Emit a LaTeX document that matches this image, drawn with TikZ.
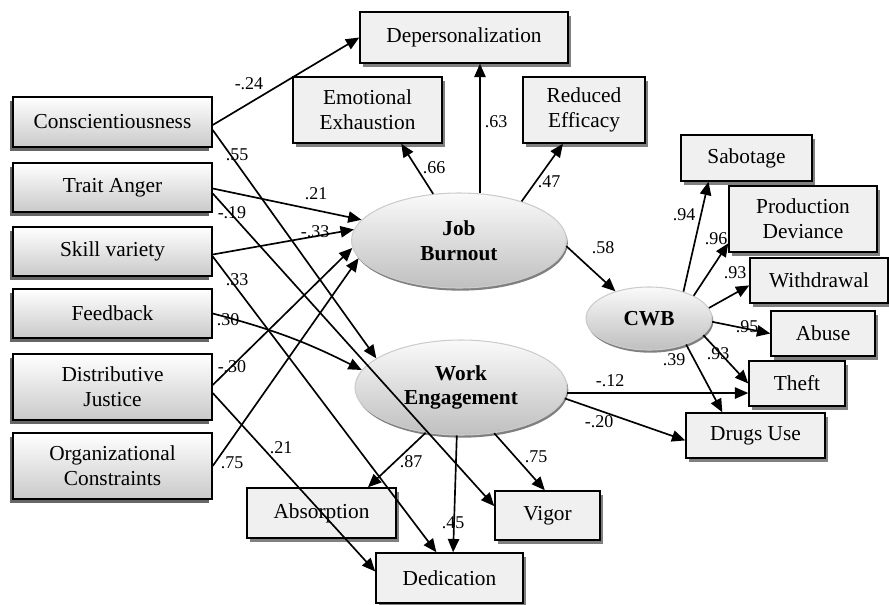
\documentclass[tikz,border=0pt]{standalone}
\usepackage{fontspec}
\setmainfont{Liberation Serif}
\usetikzlibrary{arrows.meta}
\usetikzlibrary{shapes.geometric}
\usetikzlibrary{shadows}
\usetikzlibrary{calc}

\begin{document}
\begin{tikzpicture}[x=0.75pt,y=0.75pt,yscale=-1,xscale=1,
  inbox/.style={draw=black, line width=1.1pt, top color=white, bottom color=gray!42, inner sep=0pt, align=center, font=\fontsize{16}{18.5}\selectfont, drop shadow={shadow xshift=-2.2pt, shadow yshift=-3.2pt, fill=black!60, opacity=1}},
  outbox/.style={draw=black, line width=1.1pt, fill=black!6, inner sep=0pt, align=center, font=\fontsize{16}{18.5}\selectfont, drop shadow={shadow xshift=2pt, shadow yshift=-3pt, fill=black!50, opacity=1}},
  latent/.style={ellipse, draw=black!20, line width=0.8pt, top color=black!2, bottom color=black!25, inner sep=0pt, align=center, font=\fontsize{16}{18.5}\selectfont\bfseries, drop shadow={shadow xshift=1pt, shadow yshift=-2pt, fill=black!50, opacity=1}},
  path/.style={line width=1.25pt, -{Triangle[length=10pt,width=8.5pt]}},
  coef/.style={inner sep=0.75pt, font=\fontsize{13.5}{15}\selectfont}]
\useasboundingbox (0,0) rectangle (889,604);

%Shape: Rectangle [predictors]
\node[inbox, minimum width=149.25pt, minimum height=37.5pt] (consc) at (112.5,122) {Conscientiousness};
\node[inbox, minimum width=149.25pt, minimum height=36.75pt] (anger) at (112.5,187.5) {Trait Anger};
\node[inbox, minimum width=149.25pt, minimum height=36.75pt] (skill) at (112.5,251.5) {Skill variety};
\node[inbox, minimum width=149.25pt, minimum height=36.75pt] (feedb) at (112.5,313.5) {Feedback};
\node[inbox, minimum width=149.25pt, minimum height=49.5pt] (distj) at (112.5,387) {Distributive\\Justice};
\node[inbox, minimum width=149.25pt, minimum height=49.5pt] (orgc) at (112.5,466) {Organizational\\Constraints};

%Shape: Ellipse [latent factors]
\node[latent, minimum width=161.25pt, minimum height=71.25pt] (jb) at (459,240.5) {Job\\Burnout};
\node[latent, minimum width=159pt, minimum height=71.25pt] (we) at (461,387.5) {Work\\Engagement};
\node[latent, minimum width=94.5pt, minimum height=47.25pt] (cwb) at (649,318.5) {CWB};

%Shape: Rectangle [indicators]
\node[outbox, minimum width=156pt, minimum height=38.25pt] (depers) at (464,37.5) {Depersonalization};
\node[outbox, minimum width=111.75pt, minimum height=49.5pt] (emoex) at (367.5,110) {Emotional\\Exhaustion};
\node[outbox, minimum width=91.5pt, minimum height=49.5pt] (redeff) at (584,110) {Reduced\\Efficacy};
\node[outbox, minimum width=98.25pt, minimum height=34.5pt] (sabot) at (746.5,158) {Sabotage};
\node[outbox, minimum width=111pt, minimum height=49.5pt] (prodev) at (803,219) {Production\\Deviance};
\node[outbox, minimum width=103.5pt, minimum height=33.75pt] (withd) at (819,280.5) {Withdrawal};
\node[outbox, minimum width=78pt, minimum height=33.75pt] (abuse) at (823,333.5) {Abuse};
\node[outbox, minimum width=72pt, minimum height=33.75pt] (theft) at (797,383.5) {Theft};
\node[outbox, minimum width=104.25pt, minimum height=33.75pt] (drugs) at (755.5,435.5) {Drugs Use};
\node[outbox, minimum width=78.75pt, minimum height=36.75pt] (vigor) at (547.5,515.5) {Vigor};
\node[outbox, minimum width=111.75pt, minimum height=37.5pt] (absorp) at (321.5,513) {Absorption};
\node[outbox, minimum width=110.25pt, minimum height=37.5pt] (dedic) at (449.5,578) {Dedication};

%Straight Lines [predictors]
\draw[path] ($(consc.east)+(0,3)$) -- (depers.west);
\draw[path] ($(consc.east)+(0,8)$) -- (we.161);
\draw[path] ($(anger.east)+(0,1)$) -- (jb.168);
\draw[path] ($(anger.east)+(0,6)$) -- (vigor.170);
\draw[path] ($(skill.east)+(0,3)$) -- (jb.174);
\draw[path] ($(skill.east)+(0,5)$) -- (dedic.117);
\draw[path] (feedb.east) to[bend right=6] (we.170);
\draw[path] ($(distj.east)+(0,-2)$) -- (jb.184);
\draw[path] ($(distj.east)+(0,6)$) -- (dedic.175);
\draw[path] (orgc.east) -- (jb.190);

%Straight Lines [burnout]
\draw[path] (jb.119) -- (emoex.-45);
\draw[path] (jb.66) -- (jb.66 |- depers.south);
\draw[path] (jb.32) -- (redeff.-122);
\draw[path] (jb.-3) -- (cwb.141);

%Straight Lines [cwb]
\draw[path] (cwb.38) -- (sabot.212);
\draw[path] (cwb.27) -- (prodev.198);
\draw[path] (cwb.10) -- (withd.184);
\draw[path] (cwb.-3) -- (abuse.west);
\draw[path] (cwb.-17) -- (theft.west);
\draw[path] (cwb.-35) -- (drugs.145);

%Straight Lines [engagement]
\draw[path] (we.-3) -- (we.-3 -| theft.west);
\draw[path] (we.-6) -- (drugs.184);
\draw[path] (we.232) -- (absorp.29);
\draw[path] (we.265) -- (dedic.82);
\draw[path] (we.-54) -- (vigor.96);

% Text Node
\node[coef] (c1) at (249,84) {-.24};
\node[coef] (c2) at (237,155) {.55};
\node[coef] (c3) at (316,194) {.21};
\node[coef] (c4) at (232,213) {-.19};
\node[coef] (c5) at (315,232) {-.33};
\node[coef] (c6) at (237,280) {.33};
\node[coef] (c7) at (228,320) {.30};
\node[coef] (c8) at (232,367) {-.30};
\node[coef] (c9) at (232,463) {.75};
\node[coef] (c10) at (281,448) {.21};
\node[coef] (c11) at (434,168) {.66};
\node[coef] (c12) at (496,122) {.63};
\node[coef] (c13) at (549,182) {.47};
\node[coef] (c14) at (603,248) {.58};
\node[coef] (c15) at (684,215) {.94};
\node[coef] (c16) at (716,239) {.96};
\node[coef] (c17) at (735,273) {.93};
\node[coef] (c18) at (747,327) {.95};
\node[coef] (c19) at (718,354) {.93};
\node[coef] (c20) at (674,360) {.39};
\node[coef] (c21) at (610,381) {-.12};
\node[coef] (c22) at (599,422) {-.20};
\node[coef] (c23) at (411,462) {.87};
\node[coef] (c24) at (453,523) {.45};
\node[coef] (c25) at (536,457) {.75};

\end{tikzpicture}
\end{document}
